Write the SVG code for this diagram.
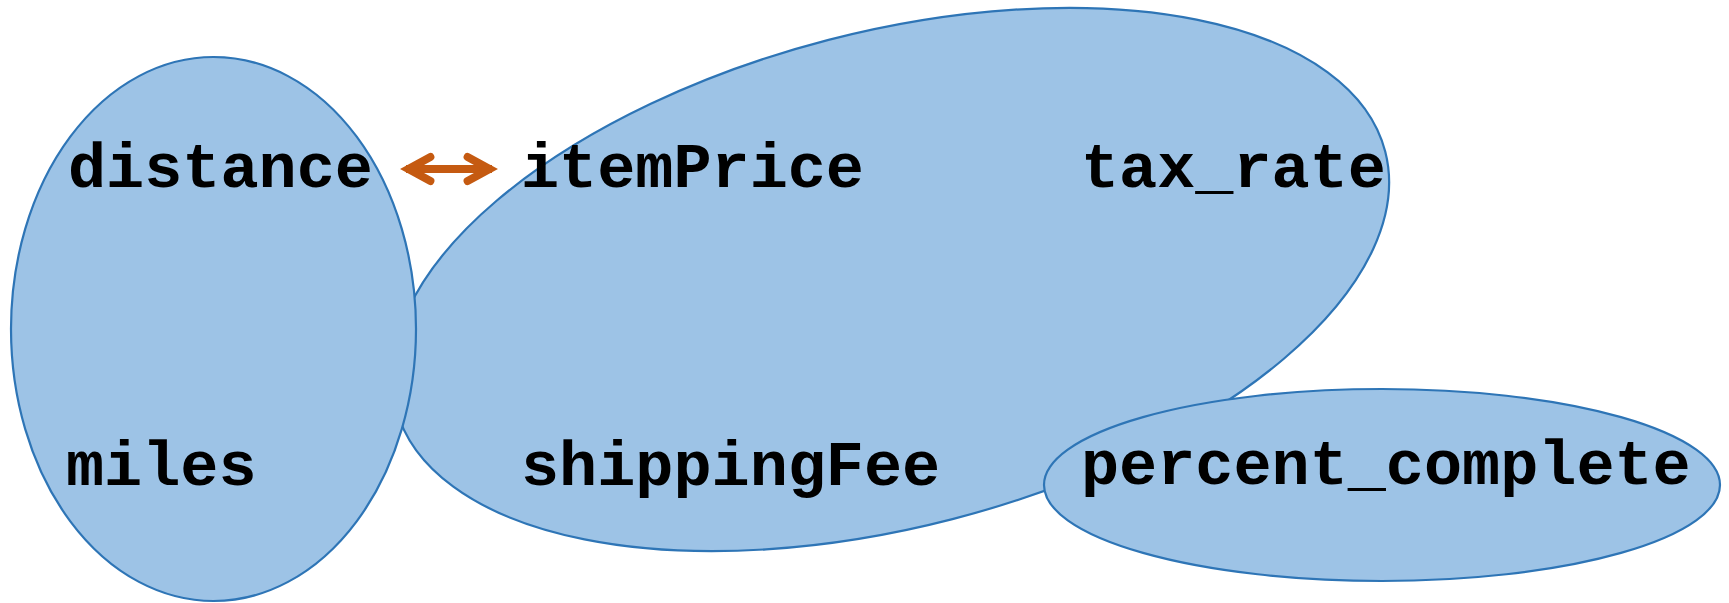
<svg xmlns="http://www.w3.org/2000/svg" width="1729" height="603" viewBox="0 0 1729 603">
<style>
.set{fill:#9DC3E6;stroke:#2E75B6;stroke-width:2.2}
.lbl{font-family:"Liberation Mono","Courier New",monospace;font-weight:bold;font-size:63.5px;fill:#000}
.conn{fill:none;stroke:#C55A11;stroke-width:8;stroke-linecap:butt}
</style>
<defs>
<marker id="chev" markerUnits="userSpaceOnUse" viewBox="-40 -20 50 40" refX="0" refY="0" markerWidth="50" markerHeight="40" orient="auto-start-reverse">
<path d="M-24.4,-12 L-2.4,0 L-24.4,12" fill="none" stroke="#C55A11" stroke-width="8" stroke-linecap="round" stroke-linejoin="miter" stroke-miterlimit="10"/>
</marker>
</defs>
<g id="node-big">
<ellipse class="set" cx="890.5" cy="279.5" rx="511" ry="247.5" transform="rotate(-14.5 890.5 279.5)"/>
<text class="lbl" x="521" y="187">itemPrice</text>
<text class="lbl" x="1081" y="187">tax_rate</text>
<text class="lbl" x="521" y="485">shippingFee</text>
</g>
<g id="node-left">
<ellipse class="set" cx="213.5" cy="329" rx="202.5" ry="272"/>
<text class="lbl" x="68" y="187">distance</text>
<text class="lbl" x="66" y="485">miles</text>
</g>
<g id="node-percent">
<ellipse class="set" cx="1382" cy="485" rx="338" ry="96"/>
<text class="lbl" x="1081" y="484">percent_complete</text>
</g>
<g id="connectors">
<line class="conn" x1="406" y1="169" x2="492" y2="169" marker-start="url(#chev)" marker-end="url(#chev)"/>
</g>
</svg>
